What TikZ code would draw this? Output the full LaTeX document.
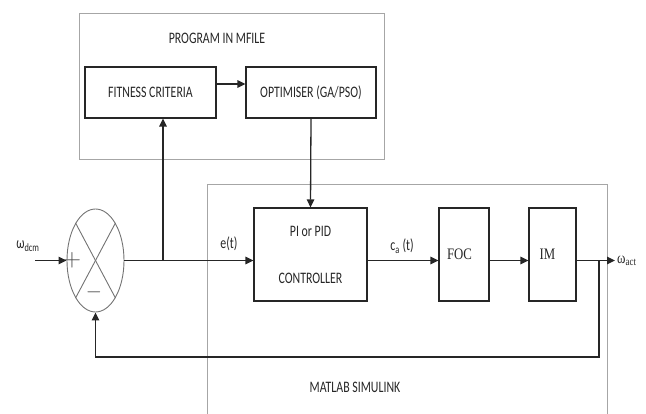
\documentclass[tikz,border=0pt]{standalone}
\usepackage{fontspec}
\setmainfont[FakeStretch=0.74]{Carlito}
\newfontfamily\serifx[FakeStretch=0.8]{Liberation Serif}
\usetikzlibrary{shapes.geometric,arrows.meta}
\begin{document}
\begin{tikzpicture}[x=1pt,y=-1pt,
  blk/.style={draw=black!85,line width=1.2pt,inner sep=0pt,align=center,
    font=\fontsize{16}{17}\selectfont,text=black!85},
  grp/.style={draw=black!35,line width=0.9pt},
  conn/.style={line width=1.3pt,draw=black!85},
  arr/.style={conn,-{Triangle[length=8pt,width=7.5pt]}},
  lbl/.style={font=\fontsize{16}{17}\selectfont,text=black!85,inner sep=0pt},
  sym/.style={text=black!70,inner sep=0pt}]
\useasboundingbox (0,0) rectangle (646,414);
% group frames
\draw[grp] (79,13) rectangle (384,159);
\draw[grp] (207,416) -- (207,184) -- (607,184) -- (607,416);
\node[lbl] (mfile) at (217,38) {PROGRAM IN MFILE};
\node[lbl] (simu) at (355,387) {MATLAB SIMULINK};
% blocks
\node[blk,minimum width=131pt,minimum height=51pt] (fit) at (150.5,92.5) {FITNESS CRITERIA};
\node[blk,minimum width=130pt,minimum height=51pt] (opt) at (311,92.5) {OPTIMISER (GA/PSO)};
\node[blk,minimum width=113pt,minimum height=93pt] (pid) at (310.5,254.5) {PI or PID\\[30pt]CONTROLLER};
\node[blk,minimum width=50pt,minimum height=93pt,font=\serifx\fontsize{16}{17}\selectfont] (foc) at (464,254.5) {FOC\hspace*{9pt}};
\node[blk,minimum width=47pt,minimum height=93pt,font=\serifx\fontsize{16}{17}\selectfont] (im) at (552.5,254.5) {IM\hspace*{10pt}};
% summing junction
\node[draw=black!55,line width=0.9pt,ellipse,minimum width=57pt,minimum height=103pt,inner sep=0pt] (sum) at (95.5,260.5) {};
\draw[draw=black!55,line width=0.9pt] (sum.118) -- (sum.-62);
\draw[draw=black!55,line width=0.9pt] (sum.62) -- (sum.-118);
\node[sym,font=\fontsize{24}{24}\selectfont] (plus) at (72,260) {$+$};
\node[sym,font=\fontsize{22}{22}\selectfont] (minus) at (94,292) {$-$};
% coordinates
\coordinate (in) at (35,260.5);
\coordinate (tap1) at (163,260.5);
\coordinate (tap2) at (599,260.5);
\coordinate (out) at (615,260.5);
\coordinate (fb) at (599,357);
% connectors
\draw[arr] (in) -- (sum.west);
\draw[arr] (sum.east) -- (pid.west |- tap1);
\draw[arr] (tap1) -- (tap1 |- fit.south);
\draw[arr] ([yshift=8.5pt]fit.east) -- ([yshift=8.5pt]opt.west);
\draw[arr] (opt.south) -- (pid.north);
\draw[arr] (pid.east |- tap1) -- (foc.west |- tap1);
\draw[arr] (foc.east |- tap1) -- (im.west |- tap1);
\draw[arr] (im.east |- tap1) -- (out);
\draw[arr] (tap2) -- (fb) -| (sum.south);
% labels
\node[lbl] (wdcm) at (28,246) {ω\textsubscript{dcm}};
\node[lbl] (et) at (229,244) {e(t)};
\node[lbl] (ca) at (402,246) {c\textsubscript{a} (t)};
\node[lbl,anchor=west,font=\serifx\fontsize{16}{17}\selectfont] (wact) at (617,261) {ω\textsubscript{act}};
\end{tikzpicture}
\end{document}
